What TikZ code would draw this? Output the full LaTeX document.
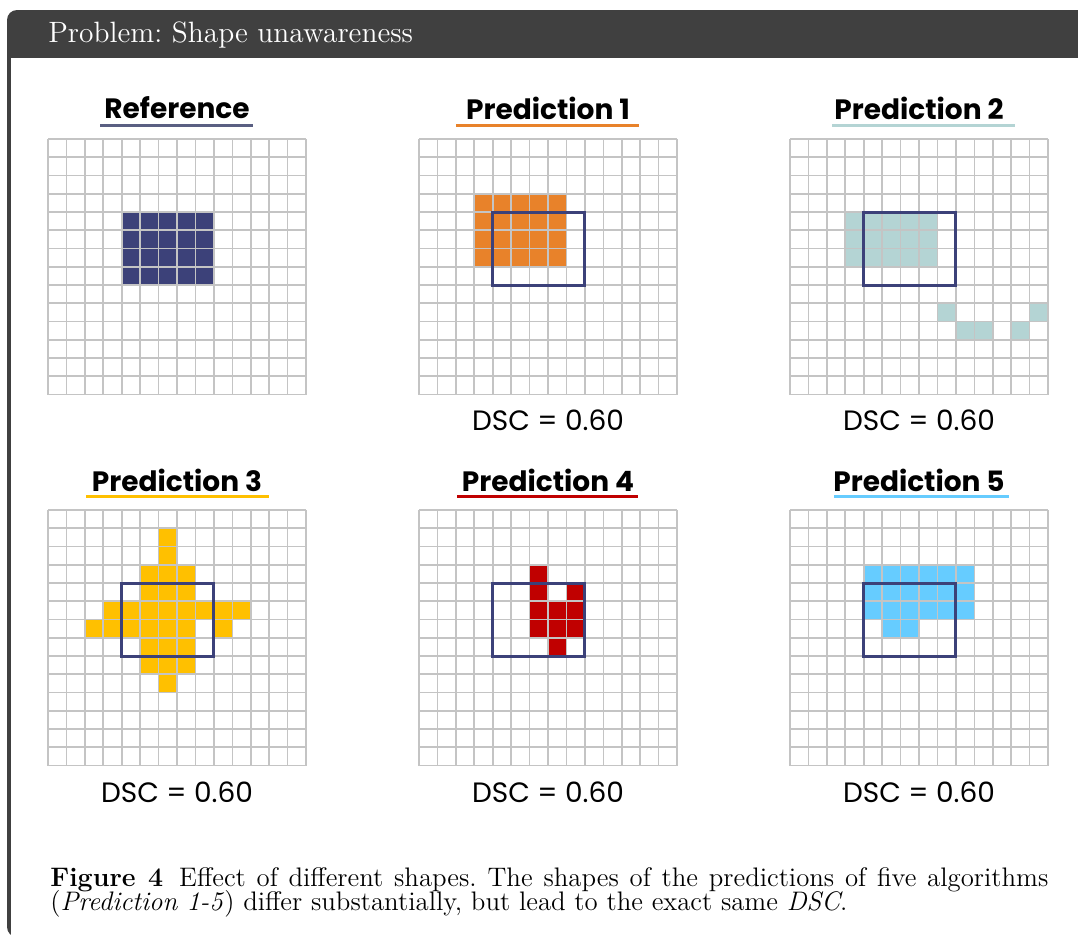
\documentclass[tikz,border=0pt]{standalone}
\usepackage{fontspec}
\newfontfamily\poppins{Poppins}
\definecolor{framegray}{HTML}{404040}
\definecolor{navy}{HTML}{3C4179}
\definecolor{refline}{HTML}{5A5F82}
\definecolor{orangec}{HTML}{E8822A}
\definecolor{tealc}{HTML}{B4D4D4}
\definecolor{yellowc}{HTML}{FFC000}
\definecolor{redc}{HTML}{C00000}
\definecolor{bluec}{HTML}{66CCFF}
\definecolor{gridc}{HTML}{C4C4C4}
\newcommand{\gridlines}{%
  \foreach \i in {0,...,14} {\draw[gridline] (\i,0) -- (\i,14); \draw[gridline] (0,\i) -- (14,\i);}}
\frenchspacing
\begin{document}
\begin{tikzpicture}[x=0.5pt,y=-0.5pt,
  gridline/.style={draw=gridc, line width=0.8pt},
  boxline/.style={draw=navy, line width=1.5pt},
  paneltitle/.style={font=\poppins\bfseries\fontsize{14}{16}\selectfont, inner sep=0pt},
  dsclabel/.style={font=\poppins\fontsize{14}{16}\selectfont, inner sep=0pt},
  uline/.style={line width=1.6pt}]
\useasboundingbox (0,0) rectangle (1078,938);
\clip (0,0) rectangle (1078,938);
% frame
\fill[framegray, rounded corners=5pt] (7,10) rectangle (1140,937);
\fill[white] (11,58) rectangle (1140,960);
\node[anchor=base west, text=white, inner sep=0pt, font=\fontsize{14.7}{17}\selectfont] (hdr) at (48,42) {Problem: Shape unawareness};

% ---------- Reference ----------
\node[paneltitle] (t0) at (177,108) {Reference};
\draw[uline, refline] (100,125.5) -- (253,125.5);
\begin{scope}[shift={(48,139)}, x=9.215pt, y=-9.125pt]
  \fill[navy] (4,4) rectangle (9,8);
  \gridlines
\end{scope}

% ---------- Prediction 1 ----------
\node[paneltitle] (t1) at (548,108) {Prediction 1};
\draw[uline, orangec] (456,125.5) -- (639,125.5);
\begin{scope}[shift={(419,139)}, x=9.215pt, y=-9.125pt]
  \fill[orangec] (3,3) rectangle (8,7);
  \gridlines
  \draw[boxline] (4,4) rectangle (9,8);
\end{scope}
\node[dsclabel] (d1) at (548,420) {DSC = 0.60};

% ---------- Prediction 2 ----------
\node[paneltitle] (t2) at (919,108) {Prediction 2};
\draw[uline, tealc] (832,125.5) -- (1015,125.5);
\begin{scope}[shift={(790,139)}, x=9.215pt, y=-9.125pt]
  \fill[tealc] (3,4) rectangle (8,7);
  \foreach \c/\r in {8/9, 9/10, 10/10, 12/10, 13/9} \fill[tealc] (\c,\r) rectangle ++(1,1);
  \gridlines
  \draw[boxline] (4,4) rectangle (9,8);
\end{scope}
\node[dsclabel] (d2) at (919,420) {DSC = 0.60};

% ---------- Prediction 3 ----------
\node[paneltitle] (t3) at (177,480) {Prediction 3};
\draw[uline, yellowc] (86,496.5) -- (269,496.5);
\begin{scope}[shift={(48,510)}, x=9.215pt, y=-9.125pt]
  \foreach \c/\r in {6/1, 6/2, 5/3, 6/3, 7/3, 5/4, 6/4, 7/4,
    3/5, 4/5, 5/5, 6/5, 7/5, 8/5, 9/5, 10/5,
    2/6, 3/6, 4/6, 5/6, 6/6, 7/6, 9/6,
    5/7, 6/7, 7/7, 5/8, 6/8, 7/8, 6/9} \fill[yellowc] (\c,\r) rectangle ++(1,1);
  \gridlines
  \draw[boxline] (4,4) rectangle (9,8);
\end{scope}
\node[dsclabel] (d3) at (177,792) {DSC = 0.60};

% ---------- Prediction 4 ----------
\node[paneltitle] (t4) at (548,480) {Prediction 4};
\draw[uline, redc] (457,496.5) -- (638,496.5);
\begin{scope}[shift={(419,510)}, x=9.215pt, y=-9.125pt]
  \foreach \c/\r in {6/3, 6/4, 8/4, 6/5, 7/5, 8/5, 6/6, 7/6, 8/6, 7/7} \fill[redc] (\c,\r) rectangle ++(1,1);
  \gridlines
  \draw[boxline] (4,4) rectangle (9,8);
\end{scope}
\node[dsclabel] (d4) at (548,792) {DSC = 0.60};

% ---------- Prediction 5 ----------
\node[paneltitle] (t5) at (919,480) {Prediction 5};
\draw[uline, bluec] (834,496.5) -- (1009,496.5);
\begin{scope}[shift={(790,510)}, x=9.215pt, y=-9.125pt]
  \fill[bluec] (4,3) rectangle (10,6);
  \fill[bluec] (5,6) rectangle (7,7);
  \gridlines
  \draw[boxline] (4,4) rectangle (9,8);
\end{scope}
\node[dsclabel] (d5) at (919,792) {DSC = 0.60};

% ---------- Caption ----------
\node[anchor=base west, inner sep=0pt, font=\fontsize{13.4}{15}\selectfont] (cap1) at (50,886)
  {\makebox[499pt][s]{\textbf{Figure 4}\hspace{0.6em}Effect of different shapes. The shapes of the predictions of five algorithms}};
\node[anchor=base west, inner sep=0pt, font=\fontsize{13.4}{15}\selectfont] (cap2) at (50,910)
  {(\textit{Prediction 1-5}) differ substantially, but lead to the exact same \textit{DSC}.};
\end{tikzpicture}
\end{document}
